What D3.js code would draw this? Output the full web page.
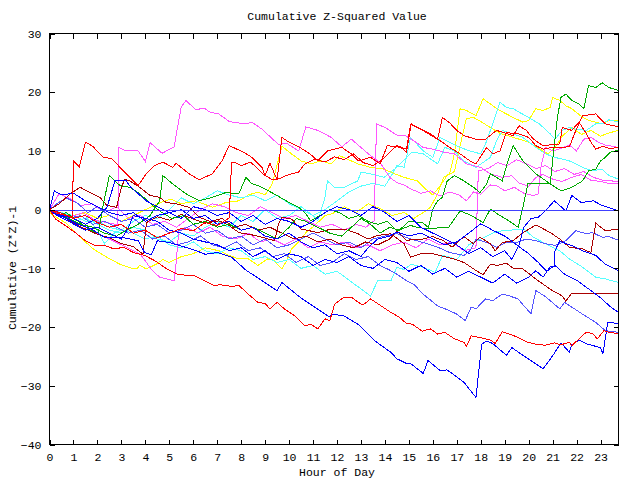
<!DOCTYPE html>
<html><head><meta charset="utf-8">
<script src="https://cdn.jsdelivr.net/npm/d3@7/dist/d3.min.js"></script>
<style>
body{margin:0;background:#fff}
text{font-family:"Liberation Mono","DejaVu Sans Mono",monospace;font-size:11.5px;fill:#000}
</style>
</head><body>
<svg id="chart" width="640" height="480"></svg>
<script>
// ---------- data (hour, cumulative value) ----------
const xTicks = [0,1,2,3,4,5,6,7,8,9,10,11,12,13,14,15,16,17,18,19,20,21,22,23];
const yTicks = [-40,-30,-20,-10,0,10,20,30];
const title = "Cumulative Z-Squared Value";
const xTitle = "Hour of Day";
const yTitle = "Cumulative (Z*Z)-1";

const red1 = [[0,0],[0.3,-0.6],[0.6,-0.9],[0.95,-1.2],[1.0,8.3],[1.25,7.3],[1.5,11.5],[1.8,10.8],[2.25,8.9],[2.6,8.7],[2.94,7.2],[3.35,5.5],[3.7,4.1],[4.04,6.1],[4.39,7.5],[4.73,8.1],[5.14,7.2],[5.28,7.9],[5.83,6.1],[6.25,5.1],[6.8,6.1],[7.2,8.3],[7.5,10.9],[7.77,10.4],[8.1,9.8],[8.45,8.9],[8.87,7.2],[9.0,5.8],[9.2,7.9],[9.5,5.1],[9.7,12.3],[9.9,11.75],[10.45,10.6],[10.87,9.5],[11.2,8.3],[11.6,10],[12.2,10.6],[12.6,9.5],[12.9,8.3],[13.4,8.9],[13.8,7.8],[14.1,10.9],[14.66,10.6],[14.9,9.8],[15.1,14.6],[15.35,14.0],[15.9,12.9],[16.3,11.75],[16.7,10.6],[17.14,9.5],[17.55,8.3],[17.8,7.8],[18.25,10.6],[18.5,9.5],[18.8,10.0],[19.07,13.2],[19.35,12.9],[19.6,12.9],[20.0,12.3],[20.3,10.9],[20.6,10.3],[21.0,10.6],[21.3,10.6],[21.7,10.7],[21.97,13.5],[22.25,16.0],[22.8,16.3],[23.2,14.6],[23.75,14.1]];
const red2 = [[0,0],[0.5,-0.6],[1,-1.5],[1.5,-1],[2,-2.2],[2.5,-3],[3,-2.5],[3.5,-4],[4,-3.5],[4.5,-4.8],[5,-4],[5.5,-3.2],[6,-3.6],[6.5,-2.2],[7,-2.7],[7.5,-1.4],[7.6,8.1],[7.7,8.1],[8.0,7.5],[8.4,8.1],[8.9,6.1],[9.3,5.1],[9.6,5.3],[10,6],[10.4,6.4],[10.66,7.8],[11.07,8.6],[11.5,8.1],[11.9,9],[12.3,8.5],[12.7,9.5],[13.1,8],[13.5,7.5],[13.9,8.5],[14.2,9.8],[14.5,10.9],[14.9,10.3],[15.07,14.5],[15.5,13.7],[16.2,12.0],[16.4,15.7],[16.7,14.8],[17.0,13.5],[17.3,12.6],[17.8,12.0],[18.2,12.0],[18.66,13.5],[19.35,12.6],[19.6,14.3],[19.9,13.5],[20.2,12],[20.6,10.9],[21.3,11.2],[21.4,14.0],[21.8,13.5],[22.1,14.9],[22.4,13],[22.6,11.5],[22.8,10.3],[23.1,10.8],[23.4,10.4],[23.75,10.6]];
const red3 = [[0,0],[0.25,-1.6],[0.66,-2.7],[1.07,-3.9],[1.5,-5.3],[1.9,-6.1],[2.3,-6.1],[2.7,-6.7],[3.1,-6.4],[3.5,-7.3],[3.97,-7.8],[4.4,-8.7],[4.9,-10.1],[5.35,-11],[5.76,-11.2],[6.04,-11.2],[6.45,-12.1],[6.87,-12.9],[7.1,-12.8],[7.35,-12.9],[7.6,-13.1],[7.9,-12.9],[8.3,-14.4],[8.7,-15.8],[9.0,-16],[9.2,-16.9],[9.5,-15.8],[9.8,-16.9],[10.25,-18.1],[10.66,-19.8],[10.9,-19.5],[11.2,-20.3],[11.5,-18.6],[11.7,-18.9],[11.9,-16.1],[12.3,-14.9],[12.6,-14.9],[13.0,-16.1],[13.1,-16.2],[13.4,-15.2],[13.7,-16],[14.25,-17.5],[14.6,-18.3],[14.9,-19.4],[15.14,-19.5],[15.56,-20.7],[15.9,-20.3],[16.2,-21.2],[16.5,-20.9],[16.9,-22],[17.3,-22.6],[17.4,-23.3],[17.6,-21.5],[17.97,-21.8],[18.4,-22.2],[18.6,-22.8],[18.9,-20.8],[19.2,-21.2],[19.4,-21.5],[19.76,-22.2],[19.97,-22.6],[20.3,-22.9],[20.7,-23.1],[21.07,-22.7],[21.35,-23],[21.7,-22.6],[21.8,-23.2],[22.1,-22],[22.4,-20.9],[22.66,-21.1],[22.87,-22],[23.14,-20.6],[23.35,-20.9],[23.75,-21.1]];
const green1 = [[0,0],[0.3,-0.8],[0.8,-1.5],[1.3,-2.5],[1.8,-3],[2.3,-4],[2.8,-4.5],[3.2,-3.5],[3.7,-2.5],[4.2,-1],[4.6,1.5],[4.73,5.8],[5.14,4.4],[5.7,2.7],[6.25,1.5],[6.8,2.1],[7.35,2.9],[7.9,2.7],[8.2,5.5],[8.45,4.4],[8.7,4.1],[9.14,3.2],[9.5,2.4],[10,1.2],[10.4,0.4],[10.66,-0.5],[10.9,-1.9],[11.3,-1],[11.7,0],[12.1,-0.5],[12.5,-1.5],[12.9,-1],[13.3,-2],[13.7,-2.5],[14.1,-2],[14.5,-3.6],[15.07,-2.7],[15.35,-3],[15.8,-3.3],[16,0.1],[16.2,1.5],[16.4,2.1],[16.6,4.9],[16.9,5.8],[17.3,4.9],[17.7,3.8],[17.97,2.9],[18.25,4.4],[18.4,6.1],[18.66,5.5],[18.9,4.9],[19.1,7.8],[19.35,10.9],[19.76,8.3],[20.3,6.1],[20.9,4.4],[21.35,3.2],[21.8,3.8],[22.25,4.9],[22.5,6.6],[22.8,6.9],[23,8.3],[23.2,8.9],[23.4,9.8],[23.75,10.1]];
const green2 = [[0,0],[0.3,-1],[0.7,-0.5],[1.2,-2],[1.7,-3.5],[2.04,-4],[2.25,1],[2.5,5.8],[2.94,4.1],[3.35,3.8],[3.77,2.7],[4.3,0.7],[4.7,-0.5],[5.1,-1.5],[5.6,-1],[6,-2.5],[6.5,-2],[7,-3],[7.5,-2.5],[8,-3.5],[8.5,-3],[9,-4],[9.5,-5],[10,-3],[10.3,-1.5],[10.7,-2],[11.2,-3],[11.7,-4],[12.2,-4.5],[12.6,-3],[13,-1.5],[13.4,-2.5],[13.8,-4],[14.2,-3],[14.6,-3.5],[15,-2],[15.56,-2.2],[15.9,-3.3],[16.4,-3],[16.66,-3],[17.14,-0.2],[17.6,-1],[18.1,-2.2],[18.4,0.1],[18.8,-1],[19.17,-1.9],[19.56,-3],[19.65,-1.5],[19.76,0.4],[19.97,4.4],[20.6,4.4],[20.9,4.4],[21.0,8.3],[21.2,15.7],[21.35,19.1],[21.55,19.7],[21.8,18.6],[22.1,18],[22.3,17.2],[22.5,21.1],[22.8,20.8],[23.07,21.6],[23.35,20.8],[23.75,20.3]];
const blue1 = [[0,0],[0.3,-0.8],[0.7,-1.5],[1.2,-2.5],[1.7,-3.2],[2.3,-4.7],[3.0,-4.7],[3.7,-5.3],[3.97,-7.3],[4.25,-7.7],[4.5,-5.3],[5.0,-5.6],[5.5,-6.2],[6.0,-6.8],[6.5,-7.6],[7.0,-7.3],[7.6,-8.1],[8.2,-10.3],[8.87,-12.1],[9.5,-13.8],[9.7,-12.4],[10.45,-14.9],[11.07,-16.6],[11.7,-18.3],[11.8,-17.8],[12.3,-18.1],[12.87,-19.5],[13.56,-22.3],[14.25,-24.3],[14.5,-25.4],[14.9,-26.2],[15.1,-26.3],[15.6,-27.9],[15.8,-25.7],[16.3,-27.4],[16.6,-27.3],[17.3,-29.4],[17.8,-32],[18.04,-22.9],[18.25,-22.4],[18.5,-22.8],[19.07,-24.8],[19.3,-23.5],[19.9,-25.2],[20.6,-27.1],[21.0,-24.9],[21.35,-22.7],[21.7,-24.3],[21.8,-23],[22.1,-22.2],[22.45,-22.9],[23.0,-23.5],[23.1,-24.6],[23.3,-19.2],[23.75,-19.4]];
const blue2 = [[0,0],[0.2,3.2],[0.5,2.5],[1,2.8],[1.5,1.5],[2,0.5],[2.5,-0.5],[3,-1],[3.5,-0.5],[4,-2],[4.5,-1],[5,-0.5],[5.5,-1.5],[6,0.5],[6.5,0],[7,-1],[7.5,-0.5],[8,-2],[8.5,-1],[9,-2.5],[9.5,-1.5],[10,-2],[10.5,-3],[11,-2],[11.5,-0.5],[12,0.5],[12.5,0],[13,-1],[13.5,0.5],[14,-0.5],[14.5,-2],[15,-1],[15.5,-3],[16,-4],[16.5,-5],[17,-6],[17.5,-7.5],[18,-6.5],[18.5,-8],[19,-7],[19.3,-8.5],[19.6,-6],[19.8,-3],[20.1,-1.5],[20.4,-1.3],[20.7,-0.2],[21.07,1.5],[21.55,-0.2],[21.8,2.4],[22.2,1.2],[22.7,1.5],[23.07,0.7],[23.75,-0.2]];
const blue3 = [[0,0],[0.3,-1],[0.8,-2],[1.5,-3.5],[2,-3],[2.5,-4],[3,-5],[3.3,-3],[3.5,-1],[4,-1.5],[4.5,-2],[5,-3.5],[5.5,-4],[6,-5],[6.5,-5.5],[7,-6],[7.5,-7],[8,-6.5],[8.5,-8],[9,-7],[9.5,-8.5],[10,-7.5],[10.5,-8],[11,-9.5],[11.5,-8.5],[12,-9],[12.5,-8],[13,-9.5],[13.5,-10],[14,-8.5],[14.5,-9],[15,-10.5],[15.5,-9.5],[16,-11],[16.5,-10],[17,-11.5],[17.5,-10.5],[18,-11.5],[18.5,-12.5],[19,-11],[19.5,-12.5],[20,-11.5],[20.3,-10.4],[20.6,-11.5],[20.9,-9.7],[21.07,-9.7],[21.1,-7],[21.3,-5.3],[21.55,-5.8],[21.8,-6.1],[22.25,-7],[22.8,-7.8],[23.2,-9.3],[23.75,-10.4]];
const blue4 = [[0,0],[0.5,-1],[1,-1.5],[1.5,-2.5],[2,-1.5],[2.4,0.4],[2.73,4.9],[3.2,4.9],[3.4,3.8],[4.04,1.5],[4.5,0.5],[5,-0.5],[5.5,0],[6,-1.5],[6.5,-1],[7,-2.5],[7.5,-2],[8,-3.5],[8.5,-3],[9,-4.5],[9.5,-5],[10,-4],[10.5,-5.5],[11,-6.5],[11.5,-6],[12,-7.5],[12.5,-7],[13,-8],[13.3,-6.5],[13.7,-5],[14.2,-4.5],[14.5,-3.8],[15,-4.5],[15.5,-4],[16,-5],[16.5,-6],[17,-5.5],[17.5,-4],[18,-2.4],[18.5,-3.5],[19,-4.5],[19.5,-6],[20,-7.5],[20.4,-9],[20.75,-10.5],[21.1,-9.5],[21.5,-11],[22,-12],[22.5,-13.5],[23,-15],[23.4,-16.5],[23.75,-17.5]];
const magenta1 = [[0,0],[0.4,-0.8],[0.9,-1.2],[1.4,-0.5],[1.9,-1.8],[2.4,-2.2],[2.85,-2.6],[2.9,10.6],[3.2,10],[3.7,10],[4.0,8.2],[4.2,11.4],[4.7,9.6],[5.2,10.7],[5.5,17.5],[5.7,18.6],[6.1,17],[6.45,17.3],[6.7,16.6],[7.07,16.3],[7.5,15],[8.2,14.6],[8.45,14.9],[8.87,13.7],[9.56,11.1],[9.9,11.3],[10.4,10],[10.7,14.1],[11.2,13.5],[11.76,12.3],[12.2,10.7],[12.6,12],[13,10.6],[13.4,9.2],[13.8,8],[14.2,5.5],[14.5,4.6],[14.8,4.2],[15.1,3.5],[15.5,2.8],[15.9,3.2],[16.3,2.3],[16.7,3],[17.1,2.5],[17.4,1.5],[17.7,3],[18,2.6],[18.4,4.2],[18.7,4],[19,3.2],[19.4,3.8],[19.8,2.8],[20.2,2.4],[20.4,2.7],[20.5,7],[20.7,10.6],[21,10],[21.4,10.5],[21.7,11],[22,10],[22.3,12],[22.6,12.3],[22.9,11.5],[23.2,11],[23.75,10.6]];
const magenta2 = [[0,0],[0.5,-1],[1,-2],[1.5,-3],[2,-4],[2.5,-5],[3,-6],[3.5,-7],[3.77,-7.5],[4.3,-10.4],[4.6,-11.5],[5.2,-12.1],[5.28,-9.3],[5.4,-3.5],[5.7,-3],[6.2,-4],[6.7,-3],[7.2,-4.5],[7.8,-5],[8.3,-4],[8.8,-5.5],[9.3,-5],[9.8,-6],[10.3,-5],[10.8,-6.5],[11.3,-5.5],[11.8,-6],[12.3,-5.5],[12.8,-6.5],[13.3,-6],[13.8,-7],[14.3,-6],[14.8,-5.5],[15.3,-6.5],[15.8,-5],[16.3,-6],[16.8,-5.5],[17.3,-7],[17.8,-6.5],[17.9,6.6],[18.3,7],[18.7,8],[19.1,7.5],[19.5,8.5],[19.9,7.8],[20.3,7],[20.7,7.5],[21.1,6.5],[21.5,7],[21.9,6],[22.3,6.5],[22.7,5.5],[23.1,5],[23.75,4.8]];
const magenta3 = [[0,0],[0.4,2.7],[0.9,1.8],[1.3,0.7],[1.8,1],[2.3,-0.5],[2.8,0.5],[3.3,-1.5],[3.8,-1],[4.3,-2.5],[4.8,-2],[5.3,-3],[5.8,-1.5],[6.3,0],[6.8,1],[7.3,0.5],[7.8,-0.5],[8.3,-1],[8.8,0.5],[9.3,-0.5],[9.8,-1.5],[10.3,-1],[10.8,-2],[11.3,-3],[11.8,-2.5],[12.3,-3.5],[12.8,-2.5],[13.2,-3],[13.55,-1.9],[13.65,14.6],[14,14],[14.5,12.7],[14.85,12.6],[15.2,11.75],[15.6,10.6],[16,10.3],[16.45,9.8],[16.9,9.5],[17.4,7.8],[18,7.2],[18.4,6.1],[18.9,5.5],[19.3,5.8],[19.6,4.5],[20,4],[20.3,5.5],[20.6,6],[21,5.2],[21.4,4.8],[21.8,5.5],[22.2,6],[22.6,5],[23,4.8],[23.3,4.5],[23.75,4.4]];
const cyan1 = [[0,0],[0.5,-1],[1,-2],[1.5,-1.5],[2,-2.5],[2.5,-3.5],[3,-4],[3.5,-3],[4,-3.5],[4.5,-5],[5,-5.5],[5.5,-4],[6,-4.5],[6.5,-3],[7,-2],[7.5,-3],[8,-1],[8.5,-2],[9,0],[9.5,-1.5],[10,-1],[10.5,0.5],[11,-1],[11.5,0],[12,1.5],[12.5,3],[13,4],[13.5,4.5],[14,4],[14.3,6],[14.5,7.5],[14.8,7.2],[14.9,8.9],[15.07,12.3],[15.6,10.0],[16.0,8.9],[16.3,12.3],[16.7,11.5],[17.14,10.6],[17.55,10.0],[18.0,9.5],[18.2,11.2],[18.5,14.6],[18.8,18.3],[19.07,17.4],[19.35,17.2],[19.6,16.6],[20.0,15.7],[20.45,14.6],[20.9,12.9],[21.1,12.0],[21.4,13.5],[21.7,14.0],[21.97,13.7],[22.4,13.5],[22.8,14.6],[23.07,14.6],[23.35,15.3],[23.75,14.9]];
const cyan2 = [[0,0],[0.5,-0.5],[1,-1],[1.5,-2],[2,-2],[2.5,-3],[3,-3.5],[3.5,-2],[4,-1],[4.5,-1.5],[5,0],[5.5,2],[6,1],[6.5,2],[7,3.2],[7.5,2.5],[8,2],[8.5,2.5],[9,1.5],[9.5,2.5],[10,1],[10.5,0],[11,-1],[11.2,-1.9],[11.5,2.1],[11.6,4.9],[11.9,3.8],[12.3,3.8],[12.87,4.9],[13.0,6.4],[13.4,6.1],[13.97,5.5],[14.5,7.2],[14.9,8.9],[15.14,9.8],[15.6,9.5],[16.2,7.8],[16.5,10.6],[16.9,10.0],[17.3,8.3],[17.8,7.2],[18.4,8.9],[18.66,11.75],[18.9,13.5],[19.35,12.9],[19.76,12.3],[20.3,10.6],[20.7,9.5],[21.1,8.9],[21.7,8.3],[22.25,7.2],[22.66,6.6],[23.07,6.9],[23.35,5.8],[23.75,5.2]];
const cyan3 = [[0,0],[0.5,-0.5],[1,-1.5],[1.5,-1],[2,-3.5],[2.3,-5.8],[2.7,-4],[3,-3.5],[3.5,-4],[4,-5],[4.5,-4.5],[5,-6],[5.5,-6.5],[6,-5.5],[6.5,-7],[7,-7.5],[7.5,-6.5],[8,-7],[8.5,-8.5],[9,-8],[9.5,-9],[10,-8.5],[10.5,-10],[11,-9.5],[11.5,-11],[12,-10.5],[12.5,-12],[13,-13.5],[13.4,-14.7],[13.7,-12.1],[14.25,-12.1],[14.5,-9.8],[14.8,-10.2],[15.1,-9.3],[15.6,-9.8],[16.1,-10.7],[16.4,-7.8],[16.7,-8.1],[17.0,-8.5],[17.5,-6],[18,-5],[18.5,-4],[18.9,-3.6],[19.8,-3.3],[20.2,-4.7],[20.7,-5.8],[21.3,-7.0],[21.7,-8.4],[22.25,-9.8],[22.8,-11.5],[23.2,-11.8],[23.75,-12.4]];
const yellow1 = [[0,0],[0.04,-0.7],[0.73,-2.4],[1.28,-4.7],[1.83,-6.7],[2.39,-8.1],[2.94,-9.3],[3.35,-9.9],[3.63,-10.1],[3.77,-9.5],[4.04,-10.1],[4.45,-9.3],[4.73,-8.5],[5.0,-9],[5.5,-8],[6,-7.5],[6.5,-6.5],[7.07,-7],[7.5,-7.8],[7.9,-8.4],[8.3,-8.4],[8.7,-9.5],[9.1,-8.4],[9.35,-8.6],[9.7,-10.1],[9.9,-8.7],[10.1,-6.7],[10.45,-5.3],[10.7,-3.9],[11.07,-2.7],[11.5,-1],[11.8,-0.7],[12.3,0.5],[12.8,-0.5],[13.3,1],[13.8,0.2],[14.3,-1],[14.8,-0.5],[15.2,-1.5],[15.6,-0.5],[15.9,0.4],[16.2,2.7],[16.45,5.5],[16.7,6.1],[16.9,9.5],[17.14,17.2],[17.4,16.9],[17.8,16],[18.1,18.9],[18.4,18],[18.66,17.2],[19.07,16.3],[19.35,15.7],[19.76,14.9],[20.0,15.2],[20.3,17.2],[20.6,16.9],[20.9,17.4],[21.0,19.1],[21.3,18.6],[21.55,17.7],[21.8,17.2],[22.25,15.7],[22.5,15.2],[22.8,14.9],[23.07,14.6],[23.35,15.2],[23.75,15.2]];
const yellow2 = [[0,0],[0.5,-0.5],[1,-1],[1.5,-0.5],[2,-1.5],[2.5,-1],[3,-2],[3.5,-1],[4,0],[4.5,1],[5.07,1.8],[5.5,1],[6.1,1.5],[6.8,0.4],[7.35,1.2],[7.9,1.5],[8.3,2.5],[8.7,3],[9.0,2.5],[9.3,4.4],[9.7,10.8],[10.1,9.5],[10.5,8.3],[10.9,7.8],[11.35,8.3],[11.76,7.8],[12.1,9.2],[12.6,8.3],[12.87,7.8],[13.4,7.2],[13.97,6.9],[14.4,6.1],[14.8,5.5],[15.35,4.9],[15.7,3.5],[16,2.5],[16.3,4],[16.6,5.8],[16.9,6.5],[17.2,12],[17.4,15.5],[17.7,15.7],[18,15],[18.4,14],[18.8,13],[19.2,12.5],[19.6,12],[20,11.5],[20.4,10.5],[20.8,9.5],[21.1,10.5],[21.4,12.5],[21.8,14],[22.2,12.8],[22.6,13.5],[23,12.5],[23.3,13],[23.75,13.5]];
const darkred1 = [[0,0],[0.5,-1],[1,-2.3],[1.5,-3.3],[2,-4.2],[2.5,-4.8],[3,-5.8],[3.5,-6.3],[3.9,-7.6],[4.05,-2.2],[4.5,-1.2],[5,-1.8],[5.5,-0.8],[6,-1.6],[6.5,-2.3],[7.07,-1.9],[7.5,-2.7],[7.9,-3.9],[8.45,-4.3],[8.87,-4.7],[9.4,-5.3],[9.56,-2.4],[9.7,-1.3],[10.1,-1.6],[10.5,-3.3],[11.2,-3.9],[11.76,-3.3],[12.3,-3.3],[12.87,-4.1],[13.3,-5.0],[13.7,-4.4],[14.25,-4.1],[14.8,-5.8],[15.07,-8.1],[15.5,-7.5],[15.9,-7.4],[16.3,-7.8],[16.87,-8.4],[17.3,-9],[17.7,-10.1],[18.1,-11.1],[18.4,-9.3],[18.7,-9.5],[19.07,-9.1],[19.4,-10.1],[19.76,-10.1],[20.2,-11.5],[20.6,-12.7],[21.0,-13.8],[21.4,-14.7],[21.55,-15.6],[21.8,-14.2],[23.75,-14.2]];
const darkred2 = [[0,0],[0.4,1],[0.87,2.7],[1.28,3.8],[1.7,2.9],[2.1,2.1],[2.4,0.7],[2.8,0.4],[3.0,3.8],[3.15,5.2],[3.35,4.9],[3.77,3.8],[4.2,2.4],[4.6,2.1],[4.87,1.2],[5.28,1.0],[5.83,0.4],[6.25,-1.3],[6.7,-2],[7.2,-1.5],[7.7,-3],[8.2,-2.5],[8.7,-3.5],[9.2,-3],[9.7,-4],[10.2,-5],[10.7,-4.5],[11.2,-5.5],[11.7,-5],[12.2,-6],[12.7,-6.5],[13.2,-5.5],[13.7,-6],[14.2,-5],[14.5,-3.6],[14.9,-5.3],[15.2,-5.0],[15.6,-5.0],[16.0,-4.6],[16.45,-5.3],[16.8,-6.4],[17.3,-4.6],[17.7,-5.8],[17.97,-4.7],[18.4,-5.8],[18.6,-7.0],[18.9,-5.6],[19.35,-5.3],[19.7,-4.1],[20.3,-2.6],[20.9,-3.9],[21.3,-5.0],[21.7,-6.4],[22.25,-6.7],[22.6,-7.3],[22.8,-2.3],[23.2,-3.6],[23.75,-3.3]];
const slate1 = [[0,0],[0.3,-0.5],[0.8,-1.5],[1.3,-1],[1.8,-2.5],[2.3,-2],[2.8,-3],[3.3,-4],[3.8,-3.5],[4.3,-5],[4.8,-4.5],[5.3,-6],[5.8,-5.5],[6.3,-4.5],[6.8,-6],[7.3,-6.5],[7.8,-5.5],[8.3,-7],[8.8,-6.5],[9.3,-8],[9.8,-7.5],[10.3,-9],[10.8,-8],[11.3,-9.5],[11.8,-9],[12.3,-7.5],[12.8,-8.5],[13.3,-8],[13.8,-9.5],[14.2,-10.3],[14.5,-11],[14.9,-12.1],[15.2,-12.7],[15.6,-14.4],[16.2,-16.4],[16.7,-17.2],[17.0,-17.8],[17.35,-18.9],[17.6,-16.6],[17.8,-16.9],[18.2,-15.2],[18.5,-15.5],[18.9,-14.4],[19.2,-14.7],[19.56,-15.2],[19.8,-16.4],[20.1,-17.7],[20.3,-13.8],[20.66,-14.7],[20.9,-15.5],[21.3,-16.9],[21.5,-15.8],[21.8,-16.6],[22.25,-17.8],[22.8,-19.2],[23.2,-20.6],[23.75,-20.9]];
const slate2 = [[0,0],[0.3,1],[0.7,2],[1.2,1],[1.6,-0.5],[2,0.5],[2.5,-1],[3,-2],[3.5,-1.5],[4,-3],[4.5,-2.5],[5,-4],[5.5,-3.5],[6,-2.5],[6.5,-4],[7,-3.5],[7.5,-5],[8,-4.5],[8.5,-6],[9,-5],[9.5,-6.5],[10,-6],[10.5,-5],[11,-4],[11.5,-5],[12,-6],[12.5,-5.5],[13,-6.5],[13.5,-5],[14,-4.5],[14.5,-4.1],[15.07,-5],[15.6,-5.6],[16.2,-6.4],[16.7,-7.3],[17.3,-7.8],[17.55,-7.0],[17.8,-5.0],[18.25,-5.6],[18.66,-6.4],[19.07,-5.6],[19.5,-5.6],[19.9,-5.0],[20.3,-5.3],[20.7,-5.8],[21.1,-6.1],[21.55,-5.3],[21.97,-3.6],[22.4,-4.1],[22.66,-3.9],[23.07,-4.7],[23.35,-4.6],[23.75,-5.2]];

// series order and colour group of each
const seriesNames = ["yellow2","yellow1","cyan3","cyan2","cyan1","magenta3","magenta2","magenta1","slate2","slate1","darkred2","darkred1","green2","green1","blue4","blue3","blue2","blue1","red3","red2","red1"];
const seriesData = {red1,red2,red3,green1,green2,blue1,blue2,blue3,blue4,magenta1,magenta2,magenta3,cyan1,cyan2,cyan3,yellow1,yellow2,darkred1,darkred2,slate1,slate2};

// ---------- styles ----------
const palette = {red:"#ff0000", green:"#00aa00", blue:"#0000ff", magenta:"#ff55ff", cyan:"#55ffff", yellow:"#ffff00", darkred:"#aa0000", slate:"#5555ff"};
const zeroColor = "#4040ff";

const plot = {left:49, right:618, top:33, bottom:444};

const svg = d3.select("#chart");
const x = d3.scaleLinear().domain([0, 23.75]).range([plot.left + 0.5, plot.right + 0.5]);
const y = d3.scaleLinear().domain([-40, 30]).range([plot.bottom + 0.5, plot.top + 0.5]);

const line = d3.line().x(d => x(d[0])).y(d => y(d[1]));

const g = svg.append("g");
seriesNames.forEach(name => {
  const grp = name.replace(/[0-9]+$/, "");
  g.append("path")
    .datum(seriesData[name])
    .attr("d", line)
    .attr("fill", "none")
    .attr("stroke", palette[grp])
    .attr("stroke-width", 1)
    .attr("shape-rendering", "crispEdges");
});

// zero axis
const y0 = Math.round(y(0)) + 0.5;
g.append("line")
  .attr("x1", x(0)).attr("x2", x(23.75))
  .attr("y1", y0).attr("y2", y0)
  .attr("stroke", zeroColor)
  .attr("stroke-width", 1)
  .attr("shape-rendering","crispEdges");

// axes with inward ticks
const tick = 5;
const ax = svg.append("g").attr("transform", `translate(0,${plot.bottom + 0.5})`)
  .call(d3.axisBottom(x).tickValues(xTicks).tickFormat(d3.format("d")).tickSize(-tick).tickPadding(8));
const axTop = svg.append("g").attr("transform", `translate(0,${plot.top + 0.5})`)
  .call(d3.axisTop(x).tickValues(xTicks).tickFormat("").tickSize(-tick));
const ay = svg.append("g").attr("transform", `translate(${plot.left + 0.5},0)`)
  .call(d3.axisLeft(y).tickValues(yTicks).tickFormat(d3.format("d")).tickSize(-tick).tickPadding(8));
const ayR = svg.append("g").attr("transform", `translate(${plot.right + 0.5},0)`)
  .call(d3.axisRight(y).tickValues(yTicks).tickFormat("").tickSize(-tick));
[ax, axTop, ay, ayR].forEach(a => {
  a.select(".domain").remove();
  a.selectAll("line").attr("stroke","#000").attr("shape-rendering","crispEdges");
  a.selectAll("text").attr("font-family", null).attr("font-size", null).attr("fill","#000");
});

// frame
svg.append("rect")
  .attr("x", plot.left + 0.5).attr("y", plot.top + 0.5)
  .attr("width", plot.right - plot.left).attr("height", plot.bottom - plot.top)
  .attr("fill","none").attr("stroke","#000").attr("shape-rendering","crispEdges");

// titles
svg.append("text").attr("x", 337).attr("y", 20).attr("text-anchor","middle").text(title);
svg.append("text").attr("x", 337).attr("y", 476).attr("text-anchor","middle").text(xTitle);
svg.append("text").attr("transform","translate(16,268) rotate(-90)").attr("text-anchor","middle").text(yTitle);
</script>
</body></html>
